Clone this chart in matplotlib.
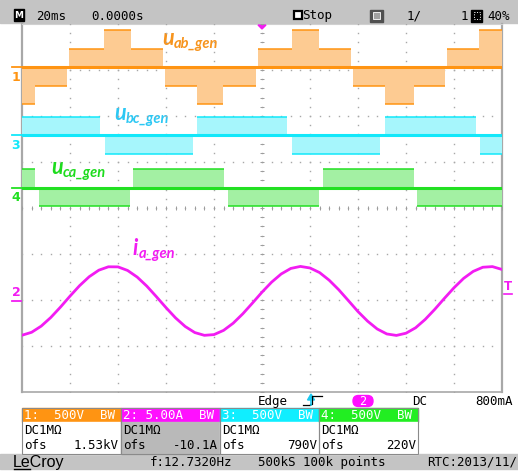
"""Scope capture: generator line voltages and phase current (LeCroy screen)."""
import numpy as np
import matplotlib
matplotlib.use('Agg')
import matplotlib.pyplot as plt
from matplotlib.patches import Rectangle, FancyBboxPatch, Polygon

W, H = 518, 473
MONO = 'DejaVu Sans Mono'
LABEL = 'Lato'

ORANGE = '#FF9412'; ORANGE_FILL = '#FDCB92'
CYAN = '#12E8FA'; CYAN_FILL = '#A6F6FC'
GREEN = '#22E022'; GREEN_FILL = '#A3F0A3'
MAGENTA = '#F21CF2'
GRID = '#A8A8A8'; FRAME = '#A8A8A8'; BAR = '#C4C4C4'

# scope settings (from the readout boxes)
ch_scale = {'1': 500, '2': 5.0, '3': 500, '4': 500}     # V/div, A/div
ch_ofs = {'1': 1530, '2': -10.1, '3': 790, '4': 220}
trig_level = 0.8                                          # A

# u_ab_gen: staircase, edges in ms and level per segment in V
uab_t = [-100, -94.6, -81.2, -80.4, -65.8, -54.6, -41.2, -40.4, -27.1, -16.2, -2.5,
         -1.7, 12.5, 23.8, 37.1, 37.9, 51.2, 63.3, 76.2, 77.1, 90.4, 100]
uab_v = [-400, -200, 0, 200, 400, 200, 0, -200, -400, -200, 0,
         200, 400, 200, 0, -200, -400, -200, 0, 200, 400]

# u_bc_gen
ubc_t = [-100, -67.5, -65.4, -28.8, -27.1, 10.4, 12.5, 49.2, 51.2, 89.2, 90.8, 100]
ubc_v = [200, 0, -200, 0, 200, 0, -200, 0, 200, 0, -200]

# u_ca_gen
uca_t = [-100, -94.6, -92.9, -55.0, -53.8, -15.8, -14.2, 23.8, 25.4, 63.3, 64.6, 100]
uca_v = [200, 0, -200, 0, 200, 0, -200, 0, 200, 0, -200]

# i_a_gen, sampled every 4 ms
ia_t = [-100, -96, -92, -88, -84, -80, -76, -72, -68, -64, -60, -56, -52, -48, -44,
        -40, -36, -32, -28, -24, -20, -16, -12, -8, -4, 0, 4, 8, 12, 16, 20, 24, 28,
        32, 36, 40, 44, 48, 52, 56, 60, 64, 68, 72, 76, 80, 84, 88, 92, 96, 100]
ia_v = [-3.73, -3.41, -2.74, -1.80, -0.68, 0.52, 1.66, 2.63, 3.34, 3.71, 3.70, 3.31,
        2.59, 1.61, 0.46, -0.73, -1.85, -2.78, -3.44, -3.74, -3.66, -3.20, -2.42,
        -1.40, -0.24, 0.95, 2.04, 2.93, 3.53, 3.75, 3.58, 3.08, 2.25, 1.21, 0.03,
        -1.16, -2.20, -3.05, -3.59, -3.75, -3.51, -2.92, -2.01, -0.91, 0.28, 1.43,
        2.45, 3.21, 3.66, 3.73, 3.42]

boxes = [('1', '1:  500V', '1.53kV', ORANGE, 'white'),
         ('2', '2: 5.00A', '-10.1A', '#FF10FF', '#B9B9B9'),
         ('3', '3:  500V', '790V', '#10EEFF', 'white'),
         ('4', '4:  500V', '220V', '#22EE22', 'white')]

fig = plt.figure(figsize=(W / 100, H / 100), dpi=100)
fig.patch.set_facecolor('white')

# pixel-space overlay for the scope chrome
ui = fig.add_axes([0, 0, 1, 1], zorder=0)
ui.set_xlim(0, W); ui.set_ylim(H, 0); ui.axis('off')

# screen area: 10 x 8 divisions
X0, X1, Y0, Y1 = 22, 502, 24, 392
ax = fig.add_axes([X0 / W, 1 - Y1 / H, (X1 - X0) / W, (Y1 - Y0) / H], zorder=1)
ax.set_xlim(-100, 100); ax.set_ylim(-4, 4); ax.axis('off')
ax.patch.set_alpha(0)

def div_to_px(d):
    return (Y0 + Y1) / 2 - d * (Y1 - Y0) / 8

# dotted graticule
ys = np.arange(-4, 4.01, 0.2)
for k in range(-4, 5):
    ax.plot(np.full_like(ys, k * 20), ys, ls='none', marker='s', ms=1.0,
            color=GRID, mew=0)
xs = np.arange(-100, 100.1, 4)
for j in range(-3, 4):
    ax.plot(xs, np.full_like(xs, j), ls='none', marker='s', ms=1.0,
            color=GRID, mew=0)
ax.plot(np.zeros_like(ys), ys, ls='none', marker='_', ms=2.2, color='#9C9C9C', mew=0.7)
ax.plot(xs, np.zeros_like(xs), ls='none', marker='|', ms=2.2, color='#9C9C9C', mew=0.7)

# frame
ui.plot([X0, X0], [Y0, Y1], color=FRAME, lw=1.6)
ui.plot([X1, X1], [Y0, Y1], color=FRAME, lw=1.6)
ui.plot([X0, X1], [Y1, Y1], color=FRAME, lw=1.2)
ui.plot([X0, X1], [Y0, Y0], color='#D0D0D0', lw=0.8)


def draw_pwm(ch, t, v, line, fill):
    s, o = ch_scale[ch], ch_ofs[ch]
    base = o / s
    lev = (np.array(v) + o) / s
    ax.stairs(lev, t, baseline=base, fill=True, facecolor=fill,
              edgecolor='none', zorder=2)
    ax.hlines(lev, t[:-1], t[1:], color=line, lw=1.1, zorder=3)
    ax.plot([t[0], t[-1]], [base, base], color=line, lw=2.2, zorder=4)
    return base


b1 = draw_pwm('1', uab_t, uab_v, ORANGE, ORANGE_FILL)
b3 = draw_pwm('3', ubc_t, ubc_v, CYAN, CYAN_FILL)
b4 = draw_pwm('4', uca_t, uca_v, GREEN, GREEN_FILL)

s2, o2 = ch_scale['2'], ch_ofs['2']
ax.plot(ia_t, (np.array(ia_v) + o2) / s2, color=MAGENTA, lw=2.0, zorder=4)
b2 = o2 / s2

# channel ground markers on the left
for base, name, col, below in [(b1, '1', ORANGE, True), (b3, '3', CYAN, True),
                               (b4, '4', GREEN, True), (b2, '2', MAGENTA, False)]:
    yp = div_to_px(base)
    ui.plot([12, 21], [yp, yp], color=col, lw=1.3)
    ui.text(16, yp + 10 if below else yp - 8, name, color=col, fontsize=9,
            fontweight='bold', ha='center', va='center', family='DejaVu Sans')

# trigger level and position markers
yt = div_to_px((trig_level + o2) / s2)
ui.text(508, yt - 7, 'T', color=MAGENTA, fontsize=8.5, fontweight='bold',
        ha='center', va='center', family='DejaVu Sans')
ui.plot([504, 512], [yt, yt], color=MAGENTA, lw=1.2)
ui.add_patch(Polygon([[258, 25], [266, 25], [262, 29]], closed=True,
                     color=MAGENTA, zorder=3))

# waveform labels
def label(x, y, main, sub, col):
    ui.text(x, y, main, color=col, fontsize=15.5, fontweight='bold', style='italic',
            family=LABEL, va='baseline', ha='left', zorder=5)
    ui.text(x + 12, y + 3, sub, color=col, fontsize=10.5, fontweight='bold',
            style='italic', family=LABEL, va='baseline', ha='left', zorder=5)

label(162, 45, 'u', 'ab_gen', '#F7941D')
label(114, 120, 'u', 'bc_gen', '#2CC8F4')
label(51, 174, 'u', 'ca_gen', '#1EDC1E')
ui.text(132, 255, 'i', color=MAGENTA, fontsize=15.5, fontweight='bold', style='italic',
        family=LABEL, va='baseline', ha='left', zorder=5)
ui.text(139, 258, 'a_gen', color=MAGENTA, fontsize=10.5, fontweight='bold',
        style='italic', family=LABEL, va='baseline', ha='left', zorder=5)

# top status bar
ui.add_patch(Rectangle((0, 0), W, 23, color=BAR, zorder=0))
ui.add_patch(Rectangle((14, 9), 10, 12, color='black'))
ui.text(19, 15.5, 'M', color='white', fontsize=6.5, fontweight='bold',
        ha='center', va='center', family='DejaVu Sans')
top_items = [(36, '20ms'), (91, '0.0000s'), (302, 'Stop'), (407, '1/'), (461, '1'),
             (487, '40%')]
for x, s in top_items:
    ui.text(x, 16, s, fontsize=9, family=MONO, ha='left', va='center', color='black')
ui.add_patch(Rectangle((293.5, 11.5), 8, 8, facecolor='white', edgecolor='black', lw=1.6))
ui.add_patch(Rectangle((370, 10), 13, 12, color='#505050'))
ui.add_patch(Rectangle((373, 12), 7, 7, facecolor='#A0A0A0', edgecolor='white', lw=0.6))
ui.add_patch(Rectangle((471, 10), 11, 12, color='black'))
ui.add_patch(Rectangle((473.5, 12.5), 6, 7, facecolor='none', edgecolor='white', lw=0.7,
                       ls=':'))

# trigger line
ui.text(258, 401, 'Edge', fontsize=9, family=MONO, ha='left', va='center')
ui.plot([303, 310, 310, 312, 312, 322], [405, 405, 404, 404, 396, 396], color='black', lw=0.9)
ui.add_patch(Polygon([[307.5, 400], [314.5, 400], [311, 394]], color='#1AC8F0'))
ui.plot([311, 311], [399, 405], color='#1AC8F0', lw=1.2)
ui.add_patch(FancyBboxPatch((353, 395.5), 20, 11, boxstyle='round,pad=0,rounding_size=5.5',
                            color='#FF10FF'))
ui.text(363, 401, '2', fontsize=8.5, family=MONO, ha='center', va='center', color='white')
ui.text(412, 401, 'DC', fontsize=9, family=MONO, ha='left', va='center')
ui.text(513, 401, '800mA', fontsize=9, family=MONO, ha='right', va='center')

# channel readout boxes
bx = 22
for name, head, ofs, col, body in boxes:
    ui.add_patch(Rectangle((bx, 408), 99, 14, color=col, zorder=1))
    ui.add_patch(Rectangle((bx, 422), 99, 32, color=body, zorder=1))
    ui.add_patch(Rectangle((bx, 408), 99, 46, facecolor='none', edgecolor='#8A8A8A',
                           lw=0.8, zorder=2))
    ui.text(bx + 2, 415, head, fontsize=9, family=MONO, ha='left', va='center',
            color='white', zorder=3)
    ui.text(bx + 93, 415, 'BW', fontsize=9, family=MONO, ha='right', va='center',
            color='white', zorder=3)
    ui.text(bx + 2, 430, 'DC1M\u03a9', fontsize=9, family=MONO, ha='left', va='center',
            zorder=3)
    ui.text(bx + 2, 445, 'ofs', fontsize=9, family=MONO, ha='left', va='center', zorder=3)
    ui.text(bx + 97, 445, ofs, fontsize=9, family=MONO, ha='right', va='center', zorder=3)
    bx += 99

# bottom status bar
ui.add_patch(Rectangle((0, 454), W, 15, color=BAR, zorder=0))
ui.text(13, 462, 'LeCroy', fontsize=11.5, family='Liberation Sans', ha='left',
        va='center', color='black')
ui.plot([14, 30], [469, 469], color='black', lw=1.0)
ui.text(150, 462, 'f:12.7320Hz', fontsize=9, family=MONO, ha='left', va='center')
ui.text(258, 462, '500kS 100k points', fontsize=9, family=MONO, ha='left', va='center')
ui.text(427, 462, 'RTC:2013/11/', fontsize=9, family=MONO, ha='left', va='center')

fig.savefig('out.png', dpi=100, facecolor='white')
